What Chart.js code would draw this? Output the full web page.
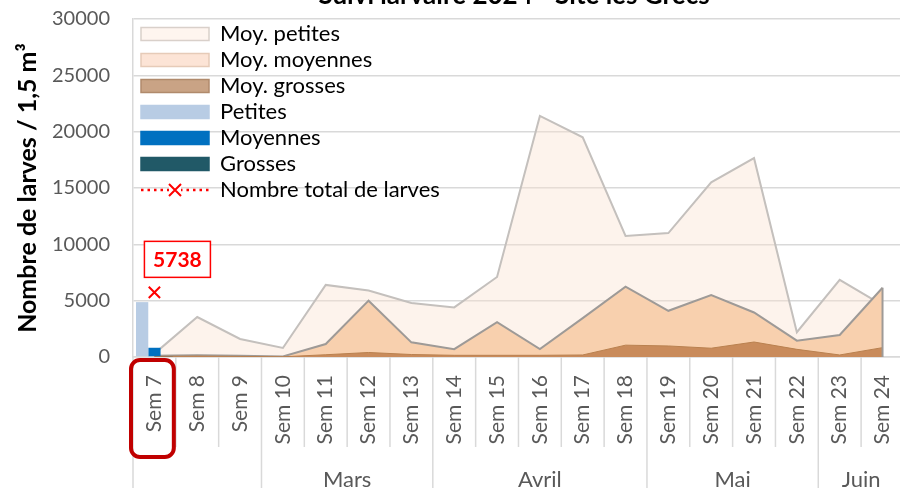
<!DOCTYPE html>
<html>
<head>
<meta charset="utf-8">
<title>Suivi larvaire 2024</title>
<script src="https://cdn.jsdelivr.net/npm/chart.js@4.4.1/dist/chart.umd.min.js"></script>
<style>
html, body { margin: 0; padding: 0; background: #fff; overflow: hidden; width: 900px; height: 488px; }
#chart { display: block; }
</style>
</head>
<body>
<canvas id="chart" width="918" height="488"></canvas>
<script>
// data
var weeks = ['Sem 7', 'Sem 8', 'Sem 9', 'Sem 10', 'Sem 11', 'Sem 12', 'Sem 13', 'Sem 14', 'Sem 15',
             'Sem 16', 'Sem 17', 'Sem 18', 'Sem 19', 'Sem 20', 'Sem 21', 'Sem 22', 'Sem 23', 'Sem 24'];
var months = ['', 'Mars', 'Avril', 'Mai', 'Juin'];
var monthSpans = [3, 4, 5, 4, 2];

var moyPetites  = [300, 3550, 1600, 800, 6400, 5900, 4800, 4400, 7100, 21400, 19500, 10750, 11000, 15500, 17650, 2200, 6850, 4600];
var moyMoyennes = [100, 150, 100, 50, 1150, 5000, 1300, 700, 3100, 700, 3450, 6250, 4100, 5500, 3950, 1450, 1950, 6150];
var moyGrosses  = [50, 80, 50, 20, 200, 400, 220, 150, 150, 150, 180, 1050, 980, 780, 1330, 680, 180, 830];

var petites  = [4870, null, null, null, null, null, null, null, null, null, null, null, null, null, null, null, null, null];
var moyennes = [820, null, null, null, null, null, null, null, null, null, null, null, null, null, null, null, null, null];
var grosses  = [48, null, null, null, null, null, null, null, null, null, null, null, null, null, null, null, null, null];
var totalLarves = [5738, null, null, null, null, null, null, null, null, null, null, null, null, null, null, null, null, null];

var yTicks = [0, 5000, 10000, 15000, 20000, 25000, 30000];

var legendFill   = ['#FEF5EF', '#FCE4D6', '#C9A385', '#B8CCE4', '#0070C0', '#215967', 'rgba(0,0,0,0)'];
var legendStroke = ['#D9D0CA', '#E6CBB8', '#B08A6C', '#B8CCE4', '#0070C0', '#215967', 'rgba(0,0,0,0)'];

var FONT = 'Lato, "Noto Sans", sans-serif';
Chart.defaults.font.family = FONT;

var decorPlugin = {
    id: 'decor',
    afterLayout: function(chart) {
        // put the legend inside the plot, top left
        var lg = chart.legend;
        var area = chart.chartArea;
        var w = lg.width, h = lg.height;
        lg.left = area.left + 4;
        lg.top = area.top;
        lg.right = lg.left + w;
        lg.bottom = lg.top + h;
    },
    afterDatasetsDraw: function(chart) {
        // closing edge of the Moy. moyennes area at the last week
        var c = chart.ctx;
        var pts = chart.getDatasetMeta(1).data;
        var last = pts[pts.length - 1];
        if (!last) return;
        c.save();
        c.strokeStyle = '#9E9A97';
        c.lineWidth = 2;
        c.beginPath();
        c.moveTo(last.x, last.y);
        c.lineTo(last.x, chart.chartArea.bottom);
        c.stroke();
        c.restore();
    },
    afterDraw: function(chart) {
        var c = chart.ctx;
        var xs = chart.scales.x;
        var area = chart.chartArea;
        var half = (xs.getPixelForTick(1) - xs.getPixelForTick(0)) / 2;
        c.save();

        // title, mostly cut off at the top like the reference
        c.font = 'bold 26px ' + FONT;
        c.fillStyle = '#000';
        c.textAlign = 'center';
        c.textBaseline = 'alphabetic';
        c.fillText('Suivi larvaire 2024 - Site les Grecs', 514, 4);

        // category separators and month separators
        var bounds = [0];
        var acc = 0;
        monthSpans.forEach(function(n) { acc += n; bounds.push(acc); });
        c.strokeStyle = '#D9D9D9';
        c.lineWidth = 1.5;
        for (var i = 0; i <= weeks.length; i++) {
            var x = i < weeks.length ? xs.getPixelForTick(i) - half : xs.getPixelForTick(i - 1) + half;
            var isLong = bounds.indexOf(i) >= 0;
            c.beginPath();
            c.moveTo(x, area.bottom);
            c.lineTo(x, isLong ? chart.height : area.bottom + 90);
            c.stroke();
        }

        // month labels
        c.font = '22px ' + FONT;
        c.fillStyle = '#595959';
        var start = 0;
        months.forEach(function(m, k) {
            var x0 = xs.getPixelForTick(start) - half;
            var x1 = xs.getPixelForTick(start + monthSpans[k] - 1) + half;
            if (m) c.fillText(m, (x0 + x1) / 2, 487);
            start += monthSpans[k];
        });

        // red frame around Sem 7
        var fx0 = xs.getPixelForTick(0) - half - 2, fx1 = xs.getPixelForTick(0) + half - 2;
        var fy0 = area.bottom + 3, fy1 = area.bottom + 100, r = 9;
        c.strokeStyle = '#C00000';
        c.lineWidth = 4;
        c.beginPath();
        c.moveTo(fx0 + r, fy0);
        c.arcTo(fx1, fy0, fx1, fy1, r);
        c.arcTo(fx1, fy1, fx0, fy1, r);
        c.arcTo(fx0, fy1, fx0, fy0, r);
        c.arcTo(fx0, fy0, fx1, fy0, r);
        c.closePath();
        c.stroke();

        // data label for the total
        var el = chart.getDatasetMeta(6).data[0];
        if (el) {
            var bx = el.x - 10, by = el.y - 51;
            c.fillStyle = '#fff';
            c.fillRect(bx, by, 66, 36);
            c.strokeStyle = '#FF0000';
            c.lineWidth = 1.5;
            c.strokeRect(bx, by, 66, 36);
            c.fillStyle = '#FF0000';
            c.font = 'bold 21px ' + FONT;
            c.textAlign = 'center';
            c.textBaseline = 'middle';
            c.fillText(String(totalLarves[0]), bx + 33, by + 19);
        }

        // legend symbol for the total line
        var hb = chart.legend.legendHitBoxes[6];
        if (hb) {
            var ly = hb.top + hb.height / 2;
            c.strokeStyle = '#FF0000';
            c.lineWidth = 2.5;
            c.setLineDash([2.5, 4]);
            c.beginPath();
            c.moveTo(hb.left, ly);
            c.lineTo(hb.left + 68, ly);
            c.stroke();
            c.setLineDash([]);
            c.lineWidth = 2;
            var cx = hb.left + 34, s = 6;
            c.fillStyle = '#fff';
            c.fillRect(cx - s, ly - s, 2 * s, 2 * s);
            c.beginPath();
            c.moveTo(cx - s, ly - s); c.lineTo(cx + s, ly + s);
            c.moveTo(cx + s, ly - s); c.lineTo(cx - s, ly + s);
            c.stroke();
        }
        c.restore();
    }
};

var ctx = document.getElementById('chart').getContext('2d');
new Chart(ctx, {
    type: 'bar',
    data: {
        labels: weeks,
        datasets: [
            { type: 'line', label: 'Moy. petites', data: moyPetites, fill: 'origin',
              backgroundColor: 'rgba(251,226,208,0.4)', borderColor: '#C4C0BD', borderWidth: 2,
              pointRadius: 0, tension: 0, order: 6 },
            { type: 'line', label: 'Moy. moyennes', data: moyMoyennes, fill: 'origin',
              backgroundColor: '#F8D0AE', borderColor: '#9E9A97', borderWidth: 2,
              pointRadius: 0, tension: 0, order: 5 },
            { type: 'line', label: 'Moy. grosses', data: moyGrosses, fill: 'origin',
              backgroundColor: '#C98B5B', borderColor: '#B9804F', borderWidth: 1,
              pointRadius: 0, tension: 0, order: 4 },
            { label: 'Petites', data: petites, backgroundColor: '#B8CCE4', order: 1 },
            { label: 'Moyennes', data: moyennes, backgroundColor: '#0070C0', order: 2 },
            { label: 'Grosses', data: grosses, backgroundColor: '#215967', order: 3 },
            { type: 'line', label: 'Nombre total de larves', data: totalLarves, fill: false,
              borderColor: '#FF0000', borderDash: [2, 3], borderWidth: 2,
              pointStyle: 'crossRot', pointRadius: 8, pointBorderWidth: 2,
              pointBorderColor: '#FF0000', order: 0 }
        ]
    },
    options: {
        responsive: false,
        animation: false,
        layout: { padding: { top: 19, left: 0, right: 0, bottom: 0 } },
        datasets: { bar: { categoryPercentage: 0.86, barPercentage: 1 } },
        plugins: {
            legend: {
                position: 'chartArea',
                align: 'start',
                labels: {
                    color: '#000',
                    font: { size: 22 },
                    boxWidth: 68,
                    boxHeight: 13,
                    padding: 4,
                    sort: function(a, b) { return a.datasetIndex - b.datasetIndex; },
                    generateLabels: function(chart) {
                        return chart.data.datasets.map(function(ds, i) {
                            return { text: ds.label, fillStyle: legendFill[i], strokeStyle: legendStroke[i],
                                     lineWidth: 1.5, hidden: false, datasetIndex: i, fontColor: '#000' };
                        });
                    }
                }
            },
            tooltip: { enabled: false },
            title: { display: false }
        },
        scales: {
            x: {
                grid: { display: false },
                border: { color: '#D9D9D9', width: 1.5 },
                ticks: { color: '#595959', font: { size: 21 }, minRotation: 90, maxRotation: 90,
                         autoSkip: false, padding: 10 },
                afterFit: function(s) { s.height = 131; }
            },
            y: {
                min: 0,
                max: 30000,
                afterBuildTicks: function(s) { s.ticks = yTicks.map(function(v) { return { value: v }; }); },
                ticks: { color: '#595959', font: { size: 20 }, padding: 0,
                         callback: function(v) { return String(v); } },
                grid: { color: '#D9D9D9', lineWidth: 1.5, drawTicks: true, tickLength: 23,
                        tickColor: 'rgba(0,0,0,0)' },
                border: { display: true, color: '#D9D9D9', width: 1.5 },
                title: { display: true, text: 'Nombre de larves / 1,5 m³', color: '#000',
                         font: { size: 25, weight: 'bold' }, padding: { top: 13, bottom: 0 } },
                afterFit: function(s) { s.width = 133; }
            }
        }
    },
    plugins: [decorPlugin]
});
</script>
</body>
</html>
